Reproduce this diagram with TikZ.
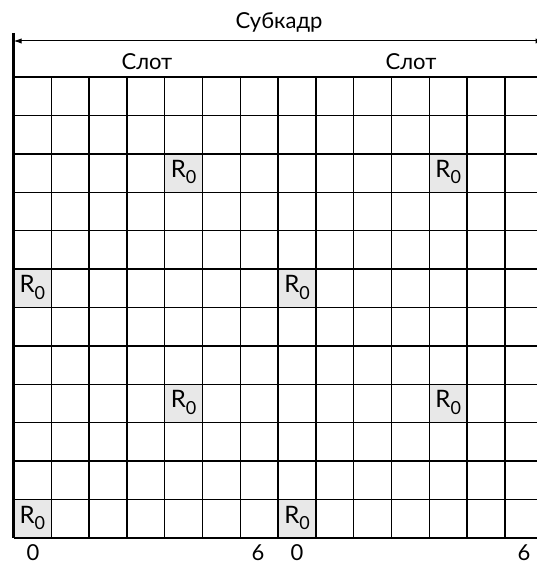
\documentclass[tikz,border=0pt]{standalone}
\usepackage{fontspec}
\setmainfont{Lato}
\usetikzlibrary{arrows.meta,positioning}

\begin{document}
\begin{tikzpicture}[x=0.5pt,y=0.5pt,every node/.style={font=\fontsize{11}{13}\selectfont},
  cellline/.style={line width=.7pt},
  slotline/.style={line width=1.3pt},
  refcell/.style={fill=black!9},
  reflabel/.style={font=\fontsize{12}{14}\selectfont}]
\useasboundingbox (0,0) rectangle (536,562);
\def\cw{37.8}
\def\rh{38.42}
\coordinate (gtl) at (13.5,485);
\coordinate (gbl) at (13.5,24);
\coordinate (gtr) at (543.5,485);
\coordinate (gmid) at (278.1,485);
\coordinate (gmidb) at (278.1,24);
\coordinate (tickl) at (13.5,529);
\coordinate (arrl) at (13.5,521);
\coordinate (arrr) at (543.5,521);
% R0 cells
\foreach \c/\r in {4/2,0/5,4/8,0/11,11/2,7/5,11/8,7/11}{
  \fill[refcell] ({13.5+\cw*\c},{485-\rh*\r}) rectangle ++(\cw,-\rh);
  \node[reflabel] (r\c\r) at ({13.5+\cw*(\c+.5)},{485-\rh*(\r+.5)+1}) {R\raisebox{-.55ex}{\fontsize{9}{9}\selectfont 0}};
}
% grid
\foreach \c in {1,...,13}
  \draw[cellline] ({13.5+\cw*\c},485) -- ({13.5+\cw*\c},24);
\foreach \r in {0,...,12}
  \draw[cellline] (13.5,{485-\rh*\r}) -- (543.5,{485-\rh*\r});
\draw[slotline] (tickl) -- (gbl);
\draw[slotline] (gmid) -- (gmidb);
\draw[line width=.5pt,{Latex[length=4pt,width=2.6pt]}-{Latex[length=4pt,width=2.6pt]}] (arrl) -- (arrr);
\node (subframe) at (279,540) {Субкадр};
\node (slotA) at (147,500) {Слот};
\node (slotB) at (411,500) {Слот};
\node[anchor=base,inner sep=0pt] (n0a) at (33,2) {0};
\node[anchor=base,inner sep=0pt] (n6a) at (258,2) {6};
\node[anchor=base,inner sep=0pt] (n0b) at (297,2) {0};
\node[anchor=base,inner sep=0pt] (n6b) at (524,2) {6};
\end{tikzpicture}
\end{document}
